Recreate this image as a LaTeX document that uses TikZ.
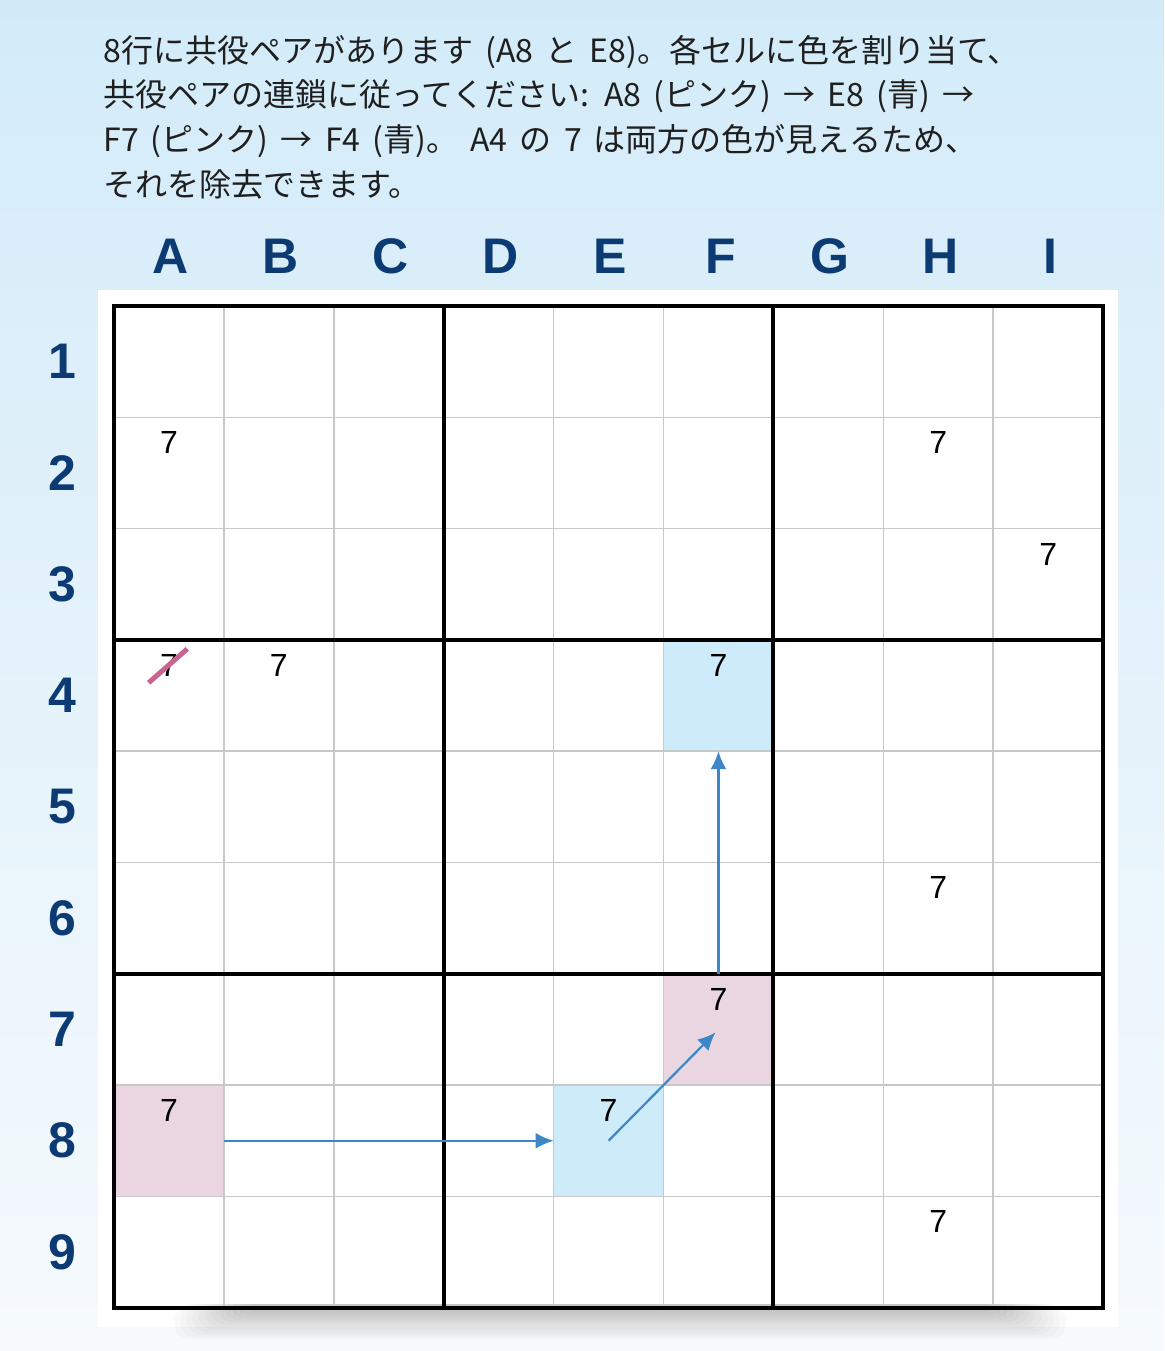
\documentclass[tikz,border=0pt]{standalone}
\usepackage{fontspec}
\setmainfont{Liberation Sans}
\newfontfamily\jpfont[WordSpace=1.7]{Noto Sans CJK JP}
\usepackage{tikz}
\usetikzlibrary{arrows.meta}
\definecolor{bgtop}{RGB}{211,235,249}
\definecolor{bgbottom}{RGB}{246,250,253}
\definecolor{labelblue}{RGB}{12,58,115}
\definecolor{gridgray}{RGB}{200,200,200}
\definecolor{cellpink}{RGB}{233,214,225}
\definecolor{cellblue}{RGB}{206,235,249}
\definecolor{chainblue}{RGB}{61,134,200}
\definecolor{strikepink}{RGB}{201,99,143}
\newcommand{\cellw}{109.9}
\newcommand{\cellh}{111.3}
\newcommand{\gridx}{114}
\newcommand{\gridy}{306}
\tikzset{
    cell/.style={inner sep=0pt, outer sep=0pt, minimum width=\cellw*0.5pt, minimum height=\cellh*0.5pt},
    headlabel/.style={inner sep=0pt, font=\fontsize{25}{25}\selectfont\bfseries, text=labelblue},
    cand/.style={anchor=north, inner sep=0pt, yshift=-7pt, font=\fontsize{16}{16}\selectfont},
    thinline/.style={gridgray, line width=0.75pt},
    boxline/.style={black, line width=2pt},
    chain/.style={chainblue, line width=1.1pt, -{Latex[length=9pt, width=8pt]}},
    strike/.style={strikepink, line width=2.5pt},
    shadowband/.style={black, opacity=0.018, rounded corners=8pt}
}

\begin{document}
\begin{tikzpicture}[x=0.5pt, y=-0.5pt]
    \useasboundingbox (0,0) rectangle (1164,1351);
    \shade[top color=bgtop, bottom color=bgbottom] (0,0) rectangle (1164,1351);

    \node[anchor=base west, align=left, inner sep=0pt, text=black!88,
          font=\jpfont\fontsize{16}{22.3}\selectfont] (title) at (103,196)
        {8行に共役ペアがあります (A8 と E8)。各セルに色を割り当て、\\
         共役ペアの連鎖に従ってください: A8 (ピンク) → E8 (青) →\\
         F7 (ピンク) → F4 (青)。 A4 の 7 は両方の色が見えるため、\\
         それを除去できます。};

    % panel and its shadow
    \fill[white] (98,290) rectangle (1118,1327);
    \foreach \k in {0,...,11}
        \fill[shadowband] ({240-\k*6},1304) rectangle ({1000+\k*6},{1312+\k*2.5});

    % cells and labels
    \foreach \col [count=\i] in {A,...,I} {
        \node[headlabel] (col-\col) at ({\gridx+(\i-0.5)*\cellw+2},256) {\col};
        \foreach \row in {1,...,9}
            \node[cell] (\col\row) at ({\gridx+(\i-0.5)*\cellw},{\gridy+(\row-0.5)*\cellh}) {};
    }
    \foreach \row in {1,...,9}
        \node[headlabel] (row-\row) at (62,{\gridy+(\row-0.5)*\cellh}) {\row};

    \foreach \c in {A8,F7}
        \fill[cellpink] (\c.north west) rectangle (\c.south east);
    \foreach \c in {E8,F4}
        \fill[cellblue] (\c.north west) rectangle (\c.south east);

    % grid
    \foreach \k in {1,...,8} {
        \draw[thinline] ({\gridx+\k*\cellw},\gridy) -- ++(0,9*\cellh);
        \draw[thinline] (\gridx,{\gridy+\k*\cellh}) -- ++(9*\cellw,0);
    }
    \foreach \k in {3,6} {
        \draw[boxline] ({\gridx+\k*\cellw},\gridy) -- ++(0,9*\cellh);
        \draw[boxline] (\gridx,{\gridy+\k*\cellh}) -- ++(9*\cellw,0);
    }
    \draw[boxline] (A1.north west) rectangle (I9.south east);

    % candidates
    \foreach \c in {A2,H2,I3,A4,B4,F4,H6,F7,A8,E8,H9}
        \node[cand] (c-\c) at (\c.north) {7};

    % chain
    \draw[chain] (A8.east) -- (E8.west);
    \draw[chain, shorten >=2pt] (E8.center) -- (F7.center);
    \draw[chain] (F7.north) -- (F4.south);
    \draw[strike] ([shift={(-11,6)}]c-A4.south west) -- ([shift={(9,-5)}]c-A4.north east);
\end{tikzpicture}
\end{document}
